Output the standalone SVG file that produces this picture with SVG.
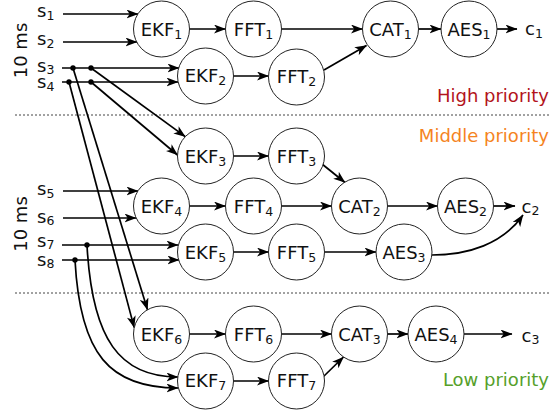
<svg xmlns="http://www.w3.org/2000/svg" width="550" height="410" viewBox="0 0 550 410">
<style>
  .n circle { fill: #fff; stroke: #222; stroke-width: 1; }
  text { font-family: "DejaVu Sans", "Liberation Sans", sans-serif; font-size: 18px; fill: #111; }
  .n text { text-anchor: middle; }
  .sub { font-size: 12.5px; }
  .c path { fill: none; stroke: #000; stroke-width: 1.7; marker-end: url(#ah); }
  .dot { fill: #000; }
  .sep { stroke: #444; stroke-width: 1; stroke-dasharray: 2 2; }
</style>
<defs>
  <marker id="ah" viewBox="0 0 12 9" refX="11.5" refY="4.5" markerWidth="12" markerHeight="9" markerUnits="userSpaceOnUse" orient="auto">
    <path d="M0,0 L12,4.5 L0,9 L3.2,4.5 Z" fill="#000"/>
  </marker>
</defs>

<line class="sep" x1="15" y1="115" x2="550" y2="115"/>
<line class="sep" x1="15" y1="293" x2="550" y2="293"/>

<text transform="translate(27,50.5) rotate(-90)" text-anchor="middle">10 ms</text>
<text transform="translate(27,224) rotate(-90)" text-anchor="middle">10 ms</text>

<text x="549" y="102" text-anchor="end" style="fill:#b3141c">High priority</text>
<text x="549" y="142" text-anchor="end" style="fill:#f5841f">Middle priority</text>
<text x="549" y="386" text-anchor="end" style="fill:#56a02a">Low priority</text>

<g id="sources">
  <text x="37" y="17.3">s<tspan class="sub" dy="2.5">1</tspan></text>
  <text x="37" y="45">s<tspan class="sub" dy="2.5">2</tspan></text>
  <text x="37" y="72">s<tspan class="sub" dy="2">3</tspan></text>
  <text x="37" y="88.3">s<tspan class="sub" dy="2.5">4</tspan></text>
  <text x="37" y="195">s<tspan class="sub" dy="2.5">5</tspan></text>
  <text x="37" y="222.7">s<tspan class="sub" dy="2.5">6</tspan></text>
  <text x="37" y="247.3">s<tspan class="sub" dy="2">7</tspan></text>
  <text x="37" y="265.7">s<tspan class="sub" dy="2.5">8</tspan></text>
</g>
<g id="sinks">
  <text x="525" y="35">c<tspan class="sub" dy="2.5">1</tspan></text>
  <text x="521.5" y="212.5">c<tspan class="sub" dy="2.5">2</tspan></text>
  <text x="521.5" y="341.5">c<tspan class="sub" dy="2.5">3</tspan></text>
</g>

<g id="connectors" class="c">
  <path d="M63,14 L138,14"/>
  <path d="M63,42 L137,42"/>
  <path d="M62,68 L179,68"/>
  <path d="M62,82 L178,82"/>
  <path d="M91,68 L185.3,136.6"/>
  <path d="M91,82 L177.5,155"/>
  <path d="M73,68 L147.5,309.7"/>
  <path d="M69,82 L134.2,327.6"/>
  <path d="M63,191 L138,191"/>
  <path d="M63,218 L136,218"/>
  <path d="M62,245 L178,245"/>
  <path d="M62,260 L179,260"/>
  <path d="M87,245 C92,340 120,377 178,377"/>
  <path d="M75,260 C80,355 110,388 178,388"/>
  <path d="M189.5,29 L225.5,29"/>
  <path d="M281.5,29 L362.5,29"/>
  <path d="M418.5,29 L441,29"/>
  <path d="M497,29 L517,29"/>
  <path d="M233.5,76 L268.5,76"/>
  <path d="M324,70 L366.5,45.5"/>
  <path d="M233.5,156 L268.5,156"/>
  <path d="M322,164 L345,182.5"/>
  <path d="M189.5,206 L225.5,206"/>
  <path d="M281.5,206 L331.5,206"/>
  <path d="M387.5,206 L437.5,206"/>
  <path d="M493.5,206 L515,206"/>
  <path d="M233.5,252 L268.5,252"/>
  <path d="M324.5,252 L376,252"/>
  <path d="M432,255 C468,255 503,244 523,215"/>
  <path d="M189.5,334 L225.5,334"/>
  <path d="M281.5,334 L331.5,334"/>
  <path d="M387.5,334 L408,334"/>
  <path d="M464,334 L512,334"/>
  <path d="M233.5,381 L268.5,381"/>
  <path d="M323,377 L343.5,357"/>
  <circle class="dot" cx="73" cy="68" r="2.7"/>
  <circle class="dot" cx="91" cy="68" r="2.7"/>
  <circle class="dot" cx="69" cy="82" r="2.7"/>
  <circle class="dot" cx="91" cy="82" r="2.7"/>
  <circle class="dot" cx="87" cy="245" r="2.7"/>
  <circle class="dot" cx="75" cy="260" r="2.7"/>
</g>

<g id="EKF1" class="n"><circle cx="161.5" cy="29" r="28"/><text x="161.5" y="35.5">EKF<tspan class="sub" dy="3">1</tspan></text></g>
<g id="FFT1" class="n"><circle cx="253.5" cy="29" r="28"/><text x="253.5" y="35.5">FFT<tspan class="sub" dy="3">1</tspan></text></g>
<g id="CAT1" class="n"><circle cx="390.5" cy="29" r="28"/><text x="390.5" y="35.5">CAT<tspan class="sub" dy="3">1</tspan></text></g>
<g id="AES1" class="n"><circle cx="469" cy="29" r="28"/><text x="469" y="35.5">AES<tspan class="sub" dy="3">1</tspan></text></g>
<g id="EKF2" class="n"><circle cx="205.5" cy="76" r="28"/><text x="205.5" y="82">EKF<tspan class="sub" dy="3">2</tspan></text></g>
<g id="FFT2" class="n"><circle cx="296.5" cy="77" r="28"/><text x="296.5" y="82.5">FFT<tspan class="sub" dy="3">2</tspan></text></g>

<g id="EKF3" class="n"><circle cx="205.5" cy="156" r="28"/><text x="205.5" y="162.5">EKF<tspan class="sub" dy="3">3</tspan></text></g>
<g id="FFT3" class="n"><circle cx="296.5" cy="156" r="28"/><text x="296.5" y="162.5">FFT<tspan class="sub" dy="3">3</tspan></text></g>
<g id="EKF4" class="n"><circle cx="161.5" cy="206" r="28"/><text x="161.5" y="212.5">EKF<tspan class="sub" dy="3">4</tspan></text></g>
<g id="FFT4" class="n"><circle cx="253.5" cy="206" r="28"/><text x="253.5" y="212.5">FFT<tspan class="sub" dy="3">4</tspan></text></g>
<g id="CAT2" class="n"><circle cx="359.5" cy="206" r="28"/><text x="359.5" y="212.5">CAT<tspan class="sub" dy="3">2</tspan></text></g>
<g id="AES2" class="n"><circle cx="465.5" cy="206" r="28"/><text x="465.5" y="212.5">AES<tspan class="sub" dy="3">2</tspan></text></g>
<g id="EKF5" class="n"><circle cx="205.5" cy="252" r="28"/><text x="205.5" y="258.5">EKF<tspan class="sub" dy="3">5</tspan></text></g>
<g id="FFT5" class="n"><circle cx="296.5" cy="252" r="28"/><text x="296.5" y="258.5">FFT<tspan class="sub" dy="3">5</tspan></text></g>
<g id="AES3" class="n"><circle cx="404" cy="252" r="28"/><text x="404" y="258.5">AES<tspan class="sub" dy="3">3</tspan></text></g>

<g id="EKF6" class="n"><circle cx="161.5" cy="334" r="28"/><text x="161.5" y="340.5">EKF<tspan class="sub" dy="3">6</tspan></text></g>
<g id="FFT6" class="n"><circle cx="253.5" cy="334" r="28"/><text x="253.5" y="340.5">FFT<tspan class="sub" dy="3">6</tspan></text></g>
<g id="CAT3" class="n"><circle cx="359.5" cy="334" r="28"/><text x="359.5" y="340.5">CAT<tspan class="sub" dy="3">3</tspan></text></g>
<g id="AES4" class="n"><circle cx="436" cy="334" r="28"/><text x="436" y="340.5">AES<tspan class="sub" dy="3">4</tspan></text></g>
<g id="EKF7" class="n"><circle cx="205.5" cy="381" r="28"/><text x="205.5" y="387">EKF<tspan class="sub" dy="3">7</tspan></text></g>
<g id="FFT7" class="n"><circle cx="296.5" cy="381" r="28"/><text x="296.5" y="387">FFT<tspan class="sub" dy="3">7</tspan></text></g>
</svg>
